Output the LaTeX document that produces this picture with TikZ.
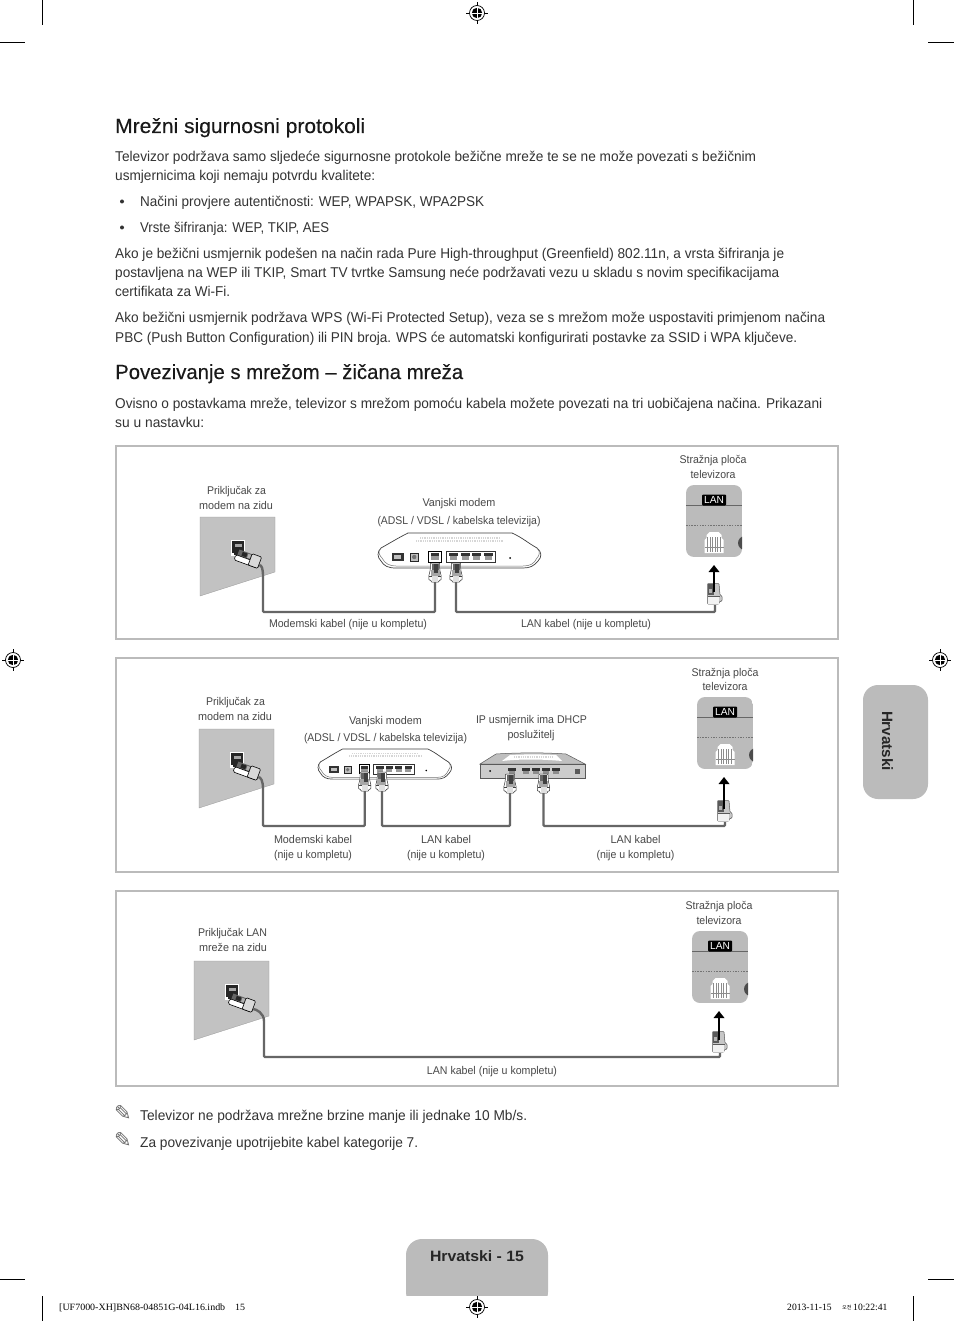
\documentclass[tikz,border=0pt]{standalone}
\usepackage{fontspec}
\usepackage{graphicx}
\setmainfont{Liberation Sans}
\newfontfamily\headf[FakeBold=0.25]{Liberation Sans}
\newfontfamily\serf{Liberation Serif}
\newfontfamily\djvf{DejaVu Sans}
\newfontfamily\krf{Noto Sans CJK KR}
\usetikzlibrary{arrows.meta,calc}
\definecolor{tabgray}{HTML}{BBBBBB}
\definecolor{wallgray}{HTML}{C2C2C2}
\definecolor{cablegray}{HTML}{666666}
\definecolor{bodyink}{HTML}{333333}
\definecolor{smallink}{HTML}{484848}
\newcounter{tn}
\newcommand\tl[5][body]{\stepcounter{tn}\node[#1,anchor=base west] (t\arabic{tn}) at (#2,#3) {\resizebox{#4pt}{\height}{#5}};}
\newcommand\cl[4]{\stepcounter{tn}\node[small,anchor=base] (t\arabic{tn}) at (#1,#2) {\resizebox{#3pt}{\height}{#4}};}
\newcommand\ucable[3]{\draw[cable] (#1) -- (#1 |- #3) -- (#2 |- #3) -- (#2);}
\tikzset{
  body/.style={inner sep=0pt,text=bodyink,font=\fontsize{14.2}{17}\selectfont},
  head/.style={inner sep=0pt,text=black!90,font=\headf\fontsize{20.5}{24}\selectfont},
  small/.style={inner sep=0pt,text=smallink,font=\fontsize{11.2}{13}\selectfont},
  foot/.style={inner sep=0pt,text=black,font=\serf\fontsize{9.6}{11}\selectfont},
  framebox/.style={draw=tabgray,line width=2.4pt},
  cable/.style={draw=cablegray,line width=2.4pt,rounded corners=1pt},
  crop/.style={draw=black,line width=.6pt},
  tvarrow/.style={draw=black,line width=2.8pt,-{Triangle[length=7pt,width=10.5pt]}},
  plugv/.pic={
    \coordinate (-out) at (0,0);
    \fill[white,draw=black!80,line width=.5pt,rounded corners=.8pt] (-4.5,-19) -- (4.5,-19) -- (4.8,-12) -- (6.2,-6) -- (6.2,-2) -- (4,-2) -- (4,0) -- (-4,0) -- (-4,-2) -- (-6.2,-2) -- (-6.2,-6) -- (-4.8,-12) -- cycle;
    \fill[black!60] (-3.5,-18.5) rectangle (3.5,-12);
    \fill[black!35] (-4.5,-12) rectangle (4.5,-6.5);
    \fill[black!75] (-1,-18) rectangle (3,-9);
    \draw[black!75,line width=.4pt] (-6,-6) -- (6,-6);
    \fill[black!12] (-3,-6) rectangle (3,-.5);
  },
  tvplug/.pic={
    \coordinate (-out) at (1,0);
    \coordinate (-top) at (0,-13);
    \fill[black!22,draw=black!65,line width=.5pt,rounded corners=.8pt] (-6.5,-21.5) -- (5,-21.5) -- (6,-10) -- (8,-9) -- (8,-4) -- (5,-3) -- (5,-1) -- (-6.5,-1) -- cycle;
    \fill[black!65] (-6,-21) rectangle (-.5,-10);
    \fill[black!30] (-5,-16) rectangle (-2,-12);
    \fill[black!5] (-6.2,-8.5) rectangle (4.5,-1.4);
    \draw[black!65,line width=.4pt] (-6.5,-9) -- (6,-9);
  },
  pics/wallp/.style={code={
    \fill[wallgray,draw=black!40,line width=.3pt] (0,0) -- (75,0) -- (75,55) -- (0,79) -- cycle;
    \fill[black!85,draw=white,line width=.4pt] (31.5,23.5) rectangle (44.5,38.5);
    \fill[white] (31.5,36) rectangle (34,38.5);
    \fill[black!35] (35,27) rectangle (42,30);
    \begin{scope}[shift={(48,41)},rotate=-20]
      \fill[black!60] (-11,-5) rectangle (3,1);
      \fill[black!85] (-7,-4) rectangle (-2,0);
      \fill[black!30] (-1,-4) rectangle (2,0);
      \fill[white,draw=black,line width=.6pt,rounded corners=1.5pt] (-12.5,1) rectangle (12.5,6.5);
      \fill[black!15,draw=black,line width=.6pt,rounded corners=1pt] (2.5,-5.5) rectangle (12.5,6.5);
    \end{scope}
    \draw[cablegray,line width=2.4pt] (59,48) .. controls (62,48) and (#1,52) .. (#1,60);
    \coordinate (-out) at (#1,60);
  }},
  modemp/.pic={
    \coordinate (-a) at (57,49);
    \coordinate (-b) at (78,49);
    \fill[white,draw=black!75,line width=.7pt] (30,0) -- (134,0) .. controls (145,5) and (150,10) .. (159,15) .. controls (164,19) and (164,24) .. (160,28) .. controls (156,33) and (152,35) .. (145,35) -- (18,35) .. controls (10,35) and (6,33) .. (3,28) .. controls (-1,24) and (-1,19) .. (3,15) .. controls (12,10) and (20,5) .. (30,0) -- cycle;
    \draw[black!55,line width=.5pt] (3,15) .. controls (-1,19) and (2,23) .. (4,25) .. controls (7,31) and (12,33) .. (18,33) -- (145,33) .. controls (152,33) and (156,31) .. (159,25) .. controls (161,23) and (163,19) .. (159,15);
    \draw[black!16,line width=1.4pt,dash pattern=on .8pt off 1pt] (42,5) -- (122,5);
    \draw[black!16,line width=1.4pt,dash pattern=on .8pt off 1pt] (38,8) -- (126,8);
    \fill[black!80] (14,20) rectangle (26,28);
    \fill[black!25] (16,22) rectangle (23,26);
    \fill[black!25,draw=black!85,line width=.5pt] (32.5,20) rectangle (40,28);
    \fill[black!55] (36.2,24) circle (2.2);
    \draw[black,line width=.9pt] (50.5,18) rectangle (63,29);
    \fill[black!80] (53,20) rectangle (61,23);
    \fill[black!40] (53,23) rectangle (61,27);
    \draw[black!80,line width=.7pt] (68,18) rectangle (117,29);
    \foreach \px in {71,82.5,94,105.5}{\fill[black!80] (\px,20) rectangle +(9,3);\fill[black!40] (\px+1,23) rectangle +(7,3.5);}
    \fill[black] (132,25) circle (1);
    \begin{scope}[shift={(57,49)}]\pic {plugv};\end{scope}
    \begin{scope}[shift={(78,49)}]\pic {plugv};\end{scope}
  },
  routerp/.pic={
    \coordinate (-a) at (30,39);
    \coordinate (-b) at (63.5,39);
    \fill[black!25,draw=black!65,line width=.5pt] (16,0) .. controls (40,-1.5) and (65,-1.5) .. (86,0) -- (105,10) -- (0,10) -- cycle;
    \fill[white] (30,1) .. controls (45,.2) and (60,.2) .. (76,1) -- (82,7) .. controls (60,5) and (40,5) .. (22,7) -- cycle;
    \draw[black!16,line width=1.2pt,dash pattern=on .8pt off 1pt] (34,3) -- (72,3);
    \fill[black!20,draw=black!65,line width=.6pt] (0,10) rectangle (105,24);
    \fill[black] (10,17) circle (1);
    \foreach \px in {28,42,52,62,72}{\fill[black!80] (\px,14) rectangle +(7.5,2.5);\fill[black!45] (\px+.8,16.5) rectangle +(6,3.5);}
    \fill[black!65] (95,15) rectangle (100,20);
    \begin{scope}[shift={(30,39)}]\pic {plugv};\end{scope}
    \begin{scope}[shift={(63.5,39)}]\pic {plugv};\end{scope}
  },
  tvpanel/.pic={
    \coordinate (-in) at (28,80);
    \begin{scope}
      \path[clip,rounded corners=8pt] (0,0) rectangle (56,72);
      \fill[tabgray] (0,0) rectangle (56,72);
      \fill[black!70] (59,58) circle (7);
    \end{scope}
    \draw[black!60,line width=.7pt] (0,20) -- (56,20);
    \draw[black!55,line width=.7pt,dash pattern=on 1.5pt off 1.2pt] (0,40) -- (56,40);
    \fill[black,rounded corners=1pt] (16,9.5) rectangle (40,20.5);
    \node[inner sep=0pt,text=white,font=\fontsize{10.2}{11}\selectfont] (-lan) at (28,15) {LAN};
    \fill[white] (23.5,47) -- (32.5,47) -- (35.5,50) -- (35.5,53) -- (37.5,55) -- (37.5,68) -- (18.5,68) -- (18.5,55) -- (20.5,53) -- (20.5,50) -- cycle;
    \foreach \px in {21.5,24,26.5,29,31.5,34}{\draw[black!45,line width=.5pt] (\px,52) -- (\px,67);}
    \draw[black!45,line width=.5pt] (18.5,62) -- (37.5,62);
  },
  regmark/.pic={
    \draw[black,line width=.5pt] (-11,0) -- (11,0) (0,-11) -- (0,11);
    \draw[black,fill=white,line width=.7pt] (0,0) circle (7.5);
    \fill[black] (0,0) circle (5.2);
    \draw[white,line width=.7pt] (-5.5,0) -- (5.5,0) (0,-5.5) -- (0,5.5);
  },
  pencil/.style={inner sep=0pt,text=black!60,font=\djvf\fontsize{21}{21}\selectfont,anchor=base west}
}
\begin{document}
\begin{tikzpicture}[x=1pt,y=-1pt]
\useasboundingbox (0,0) rectangle (954,1321);
\fill[white] (0,0) rectangle (954,1321);
% crop marks
\draw[crop] (42,0) -- (42,25) (0,42) -- (25,42) (913,0) -- (913,25) (928,42) -- (954,42);
\draw[crop] (42,1296) -- (42,1321) (0,1279) -- (25,1279) (913,1296) -- (913,1321) (928,1279) -- (954,1279);
\pic at (477,13) {regmark};
\pic at (13,660) {regmark};
\pic at (940,660) {regmark};
\pic at (477,1307) {regmark};
% tabs
\fill[tabgray,rounded corners=15pt] (863,685) rectangle (928,799);
\node[inner sep=0pt,rotate=-90,text=black!85,font=\bfseries\fontsize{15}{17}\selectfont] (tabtext) at (887.5,741) {\resizebox{60pt}{\height}{Hrvatski}};
\begin{scope}
  \clip (400,1230) rectangle (555,1295);
  \fill[tabgray,rounded corners=16pt] (406,1239) rectangle (548,1308);
\end{scope}
\node[inner sep=0pt,anchor=base,text=black!85,font=\bfseries\fontsize{15}{17}\selectfont] (pagetext) at (477,1261) {\resizebox{94pt}{\height}{Hrvatski - 15}};
% footer
\node[foot,anchor=base west] (footl) at (59,1310) {\resizebox{186pt}{\height}{[UF7000-XH]BN68-04851G-04L16.indb\hspace{1em}15}};
\node[foot,anchor=base west] (footd) at (787,1310) {2013-11-15};
\node[foot,anchor=base west] (footk) at (842,1309.5) {\krf\fontsize{5.2}{6}\selectfont 오전};
\node[foot,anchor=base west] (foott) at (853,1310) {10:22:41};
% headings and body
\tl[head]{115}{133}{250}{Mrežni sigurnosni protokoli}
\tl{115}{162}{641}{Televizor podržava samo sljedeće sigurnosne protokole bežične mreže te se ne može povezati s bežičnim}
\tl{115}{181}{260}{usmjernicima koji nemaju potvrdu kvalitete:}
\fill[bodyink] (122,201.5) circle (2);
\tl{140}{207}{344}{Načini provjere autentičnosti: WEP, WPAPSK, WPA2PSK}
\fill[bodyink] (122,227.5) circle (2);
\tl{140}{233}{189}{Vrste šifriranja: WEP, TKIP, AES}
\tl{115}{259}{669}{Ako je bežični usmjernik podešen na način rada Pure High-throughput (Greenfield) 802.11n, a vrsta šifriranja je}
\tl{115}{278}{664}{postavljena na WEP ili TKIP, Smart TV tvrtke Samsung neće podržavati vezu u skladu s novim specifikacijama}
\tl{115}{297}{115}{certifikata za Wi-Fi.}
\tl{115}{323}{710}{Ako bežični usmjernik podržava WPS (Wi-Fi Protected Setup), veza se s mrežom može uspostaviti primjenom načina}
\tl{115}{342}{682}{PBC (Push Button Configuration) ili PIN broja. WPS će automatski konfigurirati postavke za SSID i WPA ključeve.}
\tl[head]{115}{379}{348}{Povezivanje s mrežom – žičana mreža}
\tl{115}{408}{707}{Ovisno o postavkama mreže, televizor s mrežom pomoću kabela možete povezati na tri uobičajena načina. Prikazani}
\tl{115}{427}{89}{su u nastavku:}
% frames
\draw[framebox] (116,446) rectangle (838,639);
\draw[framebox] (116,658) rectangle (838,872);
\draw[framebox] (116,891) rectangle (838,1086);
% --- diagram 1
\coordinate (bus1) at (0,612);
\pic (w1) at (200,517) {wallp={63}};
\pic (m1) at (378,533) {modemp};
\pic (tv1) at (686,485) {tvpanel};
\pic (pl1) at (714,605) {tvplug};
\ucable{w1-out}{m1-a}{bus1}
\ucable{m1-b}{pl1-out}{bus1}
\draw[tvarrow] (pl1-top) -- (pl1-top |- tv1-in);
\cl{713}{463}{67}{Stražnja ploča}
\cl{713}{478}{45}{televizora}
\cl{236.5}{494}{59}{Priključak za}
\cl{236}{509}{74}{modem na zidu}
\cl{459}{506}{73}{Vanjski modem}
\cl{459}{524}{163}{(ADSL / VDSL / kabelska televizija)}
\cl{348}{627}{158}{Modemski kabel (nije u kompletu)}
\cl{586}{627}{130}{LAN kabel (nije u kompletu)}
% --- diagram 2
\coordinate (bus2) at (0,826);
\pic (w2) at (199,729) {wallp={64}};
\pic[xscale=.82,yscale=.86] (m2) at (318,749) {modemp};
\pic (r2) at (480,754) {routerp};
\pic (tv2) at (697,697) {tvpanel};
\pic (pl2) at (724,822) {tvplug};
\ucable{w2-out}{m2-a}{bus2}
\ucable{m2-b}{r2-a}{bus2}
\ucable{r2-b}{pl2-out}{bus2}
\draw[tvarrow] (pl2-top) -- (pl2-top |- tv2-in);
\cl{725}{676}{67}{Stražnja ploča}
\cl{725}{690}{45}{televizora}
\cl{235.5}{705}{59}{Priključak za}
\cl{235}{720}{74}{modem na zidu}
\cl{385.5}{724}{73}{Vanjski modem}
\cl{385.5}{741}{163}{(ADSL / VDSL / kabelska televizija)}
\cl{531.5}{723}{111}{IP usmjernik ima DHCP}
\cl{531}{738}{47}{poslužitelj}
\cl{313}{843}{78}{Modemski kabel}
\cl{313}{858}{78}{(nije u kompletu)}
\cl{446}{843}{50}{LAN kabel}
\cl{446}{858}{78}{(nije u kompletu)}
\cl{635.5}{843}{50}{LAN kabel}
\cl{635.5}{858}{78}{(nije u kompletu)}
% --- diagram 3
\coordinate (bus3) at (0,1057);
\pic (w3) at (194,961) {wallp={70}};
\pic (tv3) at (692,931) {tvpanel};
\pic (pl3) at (719,1053) {tvplug};
\ucable{w3-out}{pl3-out}{bus3}
\draw[tvarrow] (pl3-top) -- (pl3-top |- tv3-in);
\cl{719}{909}{67}{Stražnja ploča}
\cl{719}{924}{45}{televizora}
\cl{232.5}{936}{69}{Priključak LAN}
\cl{233}{951}{68}{mreže na zidu}
\cl{492}{1074}{130}{LAN kabel (nije u kompletu)}
% notes
\node[pencil] (pen1) at (114,1120) {✎};
\tl{140}{1120}{387}{Televizor ne podržava mrežne brzine manje ili jednake 10 Mb/s.}
\node[pencil] (pen2) at (114,1147) {✎};
\tl{140}{1147}{278}{Za povezivanje upotrijebite kabel kategorije 7.}
\end{tikzpicture}
\end{document}
